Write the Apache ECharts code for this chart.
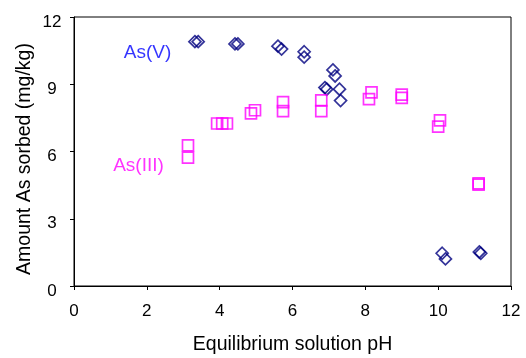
<!DOCTYPE html>
<html>
<head>
<meta charset="utf-8">
<script src="https://cdn.jsdelivr.net/npm/echarts@6/dist/echarts.min.js"></script>
<style>
  html, body { margin: 0; padding: 0; background: #fff; }
  #chart { width: 526px; height: 358px; }
</style>
</head>
<body>
<div id="chart"></div>
<script>
// Arsenate sorption vs. equilibrium pH
const asVpH = [3.32, 3.41, 4.42, 4.50, 5.60, 5.70, 6.32, 6.32, 7.11, 7.17, 6.89, 6.94, 7.29, 7.32, 10.11, 10.20, 11.13, 11.17];
const asVSorbed = [10.9, 10.9, 10.8, 10.8, 10.7, 10.57, 10.45, 10.21, 9.64, 9.37, 8.85, 8.78, 8.78, 8.27, 1.46, 1.21, 1.52, 1.46];

// Arsenite sorption vs. equilibrium pH
const asIIIpH = [3.13, 3.13, 3.93, 4.07, 4.20, 4.86, 4.97, 5.74, 5.74, 6.79, 6.79, 8.17, 8.10, 9.00, 9.00, 10.05, 10.00, 11.11, 11.11];
const asIIISorbed = [6.27, 5.73, 7.25, 7.25, 7.25, 7.70, 7.84, 8.20, 7.80, 8.28, 7.80, 8.64, 8.34, 8.54, 8.39, 7.39, 7.11, 4.58, 4.52];

// Series name labels placed in data space
const seriesLabels = [
  { name: 'As(V)', x: 2.02, y: 10.39, color: '#0000ff' },
  { name: 'As(III)', x: 1.77, y: 5.37, color: '#ff00ff' }
];

const xTicks = [0, 2, 4, 6, 8, 10, 12];
const yTicks = [0, 3, 6, 9, 12];

const zip = (xs, ys) => xs.map((x, i) => [x, ys[i]]);
const font = 'Liberation Sans, Arial, sans-serif';

const chart = echarts.init(document.getElementById('chart'));
chart.setOption({
  animation: false,
  backgroundColor: '#fff',
  grid: { left: 74, right: 15, top: 17, bottom: 72, show: true, borderColor: '#000', borderWidth: 1,
    containLabel: false, outerBoundsMode: 'none' },
  graphic: [{
    type: 'text', x: 25, y: 159, rotation: Math.PI / 2,
    style: { text: 'Amount As sorbed (mg/kg)', fontFamily: font, fontSize: 19.5, fill: '#000',
      align: 'center', verticalAlign: 'middle' }
  }],
  xAxis: {
    type: 'value', min: 0, max: 12, interval: 2,
    name: 'Equilibrium solution pH', nameLocation: 'middle', nameGap: 49,
    nameTextStyle: { fontFamily: font, fontSize: 19.5, color: '#000' },
    axisLine: { show: true, lineStyle: { color: '#000', width: 1 } },
    axisTick: { show: true, length: 4, lineStyle: { color: '#000' } },
    axisLabel: { fontFamily: font, fontSize: 17, color: '#000', margin: 17,
      formatter: v => xTicks.includes(v) ? String(v) : '' },
    splitLine: { show: false }
  },
  yAxis: {
    type: 'value', min: 0, max: 12, interval: 3,
    axisLine: { show: true, lineStyle: { color: '#000', width: 1 } },
    axisTick: { show: true, length: 4, lineStyle: { color: '#000' } },
    axisLabel: { fontFamily: font, fontSize: 17, color: '#000', margin: 22, align: 'center',
      verticalAlign: 'top', lineHeight: 10,
      formatter: v => yTicks.includes(v) ? String(v) : '' },
    splitLine: { show: false }
  },
  series: [
    {
      name: 'As(V)', type: 'scatter', symbol: 'diamond', symbolSize: 12,
      data: zip(asVpH, asVSorbed),
      itemStyle: { color: 'rgba(0,0,0,0)', borderColor: '#000080', borderWidth: 1.7 },
      emphasis: { disabled: true }
    },
    {
      name: 'As(III)', type: 'scatter', symbol: 'rect', symbolSize: 11,
      data: zip(asIIIpH, asIIISorbed),
      itemStyle: { color: 'rgba(0,0,0,0)', borderColor: '#ff00ff', borderWidth: 1.7 },
      emphasis: { disabled: true }
    },
    {
      name: 'labels', type: 'scatter', symbolSize: 0, silent: true,
      data: seriesLabels.map(l => ({
        value: [l.x, l.y],
        label: { show: true, position: 'inside', formatter: l.name,
          fontFamily: font, fontSize: 19, color: l.color }
      }))
    }
  ]
});
</script>
</body>
</html>
